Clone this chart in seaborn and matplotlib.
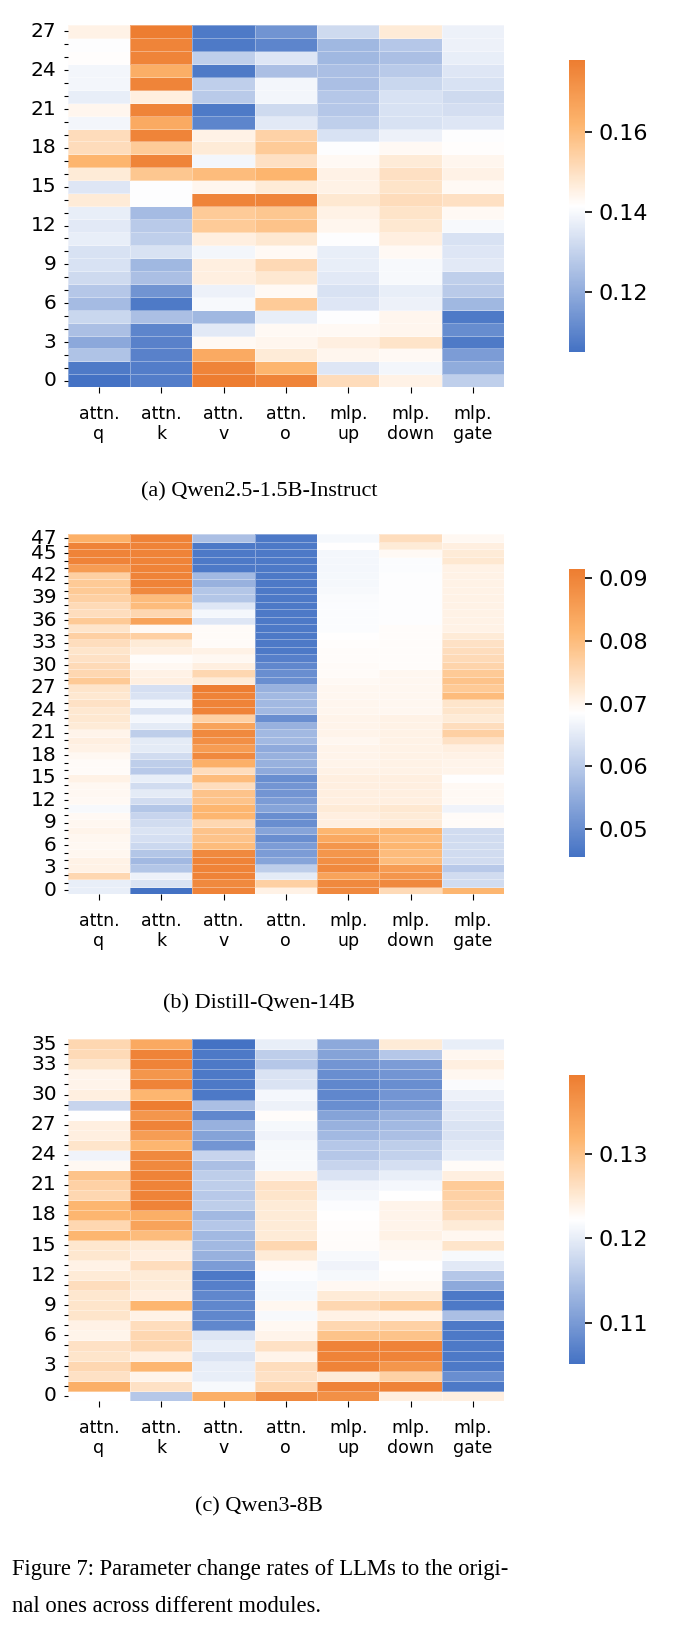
import numpy as np
import pandas as pd
import matplotlib
matplotlib.use("Agg")
import matplotlib.pyplot as plt
import seaborn as sns
from matplotlib.colors import LinearSegmentedColormap

# ---------------- data ----------------
modules = ["attn.\nq", "attn.\nk", "attn.\nv", "attn.\no", "mlp.\nup", "mlp.\ndown", "mlp.\ngate"]

# (a) Qwen2.5-1.5B-Instruct, layers 0..27
qa_q = [0.105, 0.107, 0.126, 0.119, 0.125, 0.131, 0.124, 0.127, 0.132, 0.134, 0.134, 0.137, 0.136, 0.137,
        0.147, 0.135, 0.147, 0.162, 0.151, 0.151, 0.139, 0.144, 0.137, 0.139, 0.139, 0.142, 0.141, 0.145]
qa_k = [0.108, 0.108, 0.109, 0.109, 0.110, 0.125, 0.107, 0.114, 0.125, 0.123, 0.134, 0.129, 0.128, 0.124,
        0.141, 0.141, 0.157, 0.176, 0.156, 0.176, 0.165, 0.176, 0.146, 0.176, 0.164, 0.176, 0.176, 0.178]
qa_v = [0.178, 0.176, 0.165, 0.143, 0.136, 0.123, 0.140, 0.138, 0.146, 0.146, 0.139, 0.146, 0.156, 0.156,
        0.176, 0.144, 0.160, 0.139, 0.147, 0.145, 0.110, 0.107, 0.128, 0.129, 0.107, 0.129, 0.107, 0.107]
qa_o = [0.176, 0.162, 0.147, 0.144, 0.143, 0.137, 0.156, 0.143, 0.148, 0.152, 0.143, 0.148, 0.158, 0.157,
        0.176, 0.147, 0.162, 0.150, 0.156, 0.154, 0.136, 0.132, 0.139, 0.139, 0.125, 0.135, 0.110, 0.114]
qa_up = [0.151, 0.135, 0.144, 0.146, 0.143, 0.141, 0.135, 0.134, 0.136, 0.137, 0.137, 0.141, 0.144, 0.145,
         0.148, 0.145, 0.145, 0.143, 0.141, 0.134, 0.129, 0.127, 0.127, 0.125, 0.125, 0.123, 0.123, 0.132]
qa_down = [0.145, 0.139, 0.143, 0.149, 0.144, 0.144, 0.138, 0.137, 0.140, 0.140, 0.143, 0.146, 0.148, 0.149,
           0.151, 0.149, 0.150, 0.147, 0.143, 0.138, 0.134, 0.134, 0.134, 0.131, 0.128, 0.125, 0.127, 0.147]
qa_gate = [0.129, 0.120, 0.116, 0.107, 0.112, 0.107, 0.123, 0.128, 0.129, 0.136, 0.135, 0.134, 0.140, 0.143,
           0.150, 0.143, 0.145, 0.144, 0.142, 0.141, 0.135, 0.133, 0.132, 0.134, 0.135, 0.137, 0.138, 0.138]

# (b) Distill-Qwen-14B, layers 0..47
qb_q = [0.0657, 0.0657, 0.0754, 0.0708, 0.0708, 0.0699, 0.0697, 0.0699, 0.0703, 0.0699, 0.0694, 0.0676,
        0.0694, 0.0697, 0.0697, 0.0708, 0.0692, 0.0692, 0.0697, 0.0708, 0.0713, 0.0703, 0.0720, 0.0726,
        0.0726, 0.0736, 0.0726, 0.0731, 0.0777, 0.0754, 0.0749, 0.0736, 0.0731, 0.0743, 0.0766, 0.0731,
        0.0777, 0.0743, 0.0749, 0.0766, 0.0777, 0.0777, 0.0766, 0.0858, 0.0904, 0.0904, 0.0904, 0.0823]
qb_k = [0.0455, 0.0639, 0.0662, 0.0593, 0.0570, 0.0593, 0.0621, 0.0634, 0.0639, 0.0628, 0.0616, 0.0593,
        0.0628, 0.0651, 0.0628, 0.0657, 0.0598, 0.0605, 0.0628, 0.0651, 0.0651, 0.0605, 0.0651, 0.0671,
        0.0639, 0.0671, 0.0639, 0.0634, 0.0713, 0.0708, 0.0697, 0.0690, 0.0713, 0.0720, 0.0766, 0.0694,
        0.0846, 0.0754, 0.0800, 0.0800, 0.0892, 0.0904, 0.0904, 0.0904, 0.0904, 0.0904, 0.0904, 0.0904]
qb_v = [0.0904, 0.0892, 0.0904, 0.0904, 0.0904, 0.0892, 0.0800, 0.0789, 0.0789, 0.0754, 0.0812, 0.0812,
        0.0789, 0.0789, 0.0743, 0.0800, 0.0743, 0.0823, 0.0892, 0.0858, 0.0881, 0.0892, 0.0846, 0.0766,
        0.0904, 0.0904, 0.0904, 0.0915, 0.0720, 0.0754, 0.0713, 0.0697, 0.0708, 0.0692, 0.0692, 0.0692,
        0.0644, 0.0671, 0.0644, 0.0593, 0.0593, 0.0559, 0.0570, 0.0467, 0.0467, 0.0467, 0.0467, 0.0582]
qb_o = [0.0708, 0.0766, 0.0651, 0.0605, 0.0536, 0.0524, 0.0524, 0.0501, 0.0536, 0.0501, 0.0501, 0.0536,
        0.0524, 0.0513, 0.0513, 0.0501, 0.0547, 0.0559, 0.0559, 0.0547, 0.0570, 0.0570, 0.0559, 0.0501,
        0.0570, 0.0570, 0.0570, 0.0559, 0.0501, 0.0501, 0.0490, 0.0478, 0.0467, 0.0467, 0.0467, 0.0467,
        0.0467, 0.0467, 0.0467, 0.0467, 0.0467, 0.0467, 0.0467, 0.0467, 0.0467, 0.0467, 0.0467, 0.0467]
qb_up = [0.0892, 0.0892, 0.0846, 0.0892, 0.0881, 0.0869, 0.0869, 0.0835, 0.0812, 0.0713, 0.0713, 0.0720,
         0.0713, 0.0713, 0.0713, 0.0713, 0.0708, 0.0703, 0.0703, 0.0703, 0.0699, 0.0703, 0.0703, 0.0703,
         0.0701, 0.0701, 0.0699, 0.0699, 0.0694, 0.0692, 0.0692, 0.0690, 0.0690, 0.0687, 0.0685, 0.0680,
         0.0680, 0.0680, 0.0680, 0.0678, 0.0676, 0.0674, 0.0674, 0.0671, 0.0671, 0.0671, 0.0685, 0.0674]
qb_down = [0.0749, 0.0892, 0.0869, 0.0858, 0.0800, 0.0800, 0.0812, 0.0800, 0.0812, 0.0720, 0.0720, 0.0726,
           0.0713, 0.0713, 0.0713, 0.0713, 0.0708, 0.0708, 0.0708, 0.0708, 0.0708, 0.0708, 0.0708, 0.0708,
           0.0699, 0.0699, 0.0699, 0.0699, 0.0699, 0.0699, 0.0690, 0.0690, 0.0690, 0.0690, 0.0690, 0.0690,
           0.0683, 0.0683, 0.0683, 0.0683, 0.0683, 0.0683, 0.0683, 0.0680, 0.0680, 0.0694, 0.0720, 0.0743]
qb_gate = [0.0812, 0.0628, 0.0628, 0.0598, 0.0628, 0.0628, 0.0628, 0.0628, 0.0628, 0.0692, 0.0692, 0.0667,
           0.0694, 0.0694, 0.0694, 0.0685, 0.0703, 0.0703, 0.0708, 0.0713, 0.0736, 0.0766, 0.0743, 0.0720,
           0.0731, 0.0731, 0.0800, 0.0777, 0.0789, 0.0777, 0.0759, 0.0749, 0.0743, 0.0736, 0.0720, 0.0708,
           0.0708, 0.0708, 0.0708, 0.0708, 0.0708, 0.0708, 0.0708, 0.0708, 0.0726, 0.0720, 0.0713, 0.0697]

# (c) Qwen3-8B, layers 0..35
qc_q = [0.1222, 0.1325, 0.1260, 0.1273, 0.1256, 0.1260, 0.1236, 0.1239, 0.1256, 0.1256, 0.1253, 0.1265,
        0.1248, 0.1239, 0.1253, 0.1253, 0.1316, 0.1273, 0.1316, 0.1316, 0.1273, 0.1282, 0.1299, 0.1231,
        0.1208, 0.1256, 0.1243, 0.1243, 0.1222, 0.1171, 0.1243, 0.1236, 0.1236, 0.1256, 0.1270, 0.1273]
qc_k = [0.1154, 0.1260, 0.1236, 0.1316, 0.1243, 0.1273, 0.1273, 0.1265, 0.1239, 0.1316, 0.1243, 0.1248,
        0.1248, 0.1265, 0.1243, 0.1248, 0.1308, 0.1342, 0.1325, 0.1384, 0.1384, 0.1384, 0.1384, 0.1376,
        0.1376, 0.1316, 0.1350, 0.1384, 0.1359, 0.1393, 0.1316, 0.1384, 0.1359, 0.1384, 0.1384, 0.1333]
qc_v = [0.1325, 0.1215, 0.1201, 0.1201, 0.1188, 0.1201, 0.1191, 0.1077, 0.1077, 0.1077, 0.1077, 0.1068,
        0.1060, 0.1102, 0.1128, 0.1137, 0.1137, 0.1154, 0.1137, 0.1162, 0.1157, 0.1162, 0.1162, 0.1145,
        0.1171, 0.1094, 0.1111, 0.1128, 0.1077, 0.1145, 0.1060, 0.1060, 0.1060, 0.1060, 0.1060, 0.1051]
qc_o = [0.1376, 0.1273, 0.1260, 0.1265, 0.1236, 0.1260, 0.1236, 0.1231, 0.1215, 0.1232, 0.1213, 0.1213,
        0.1219, 0.1229, 0.1248, 0.1273, 0.1248, 0.1248, 0.1248, 0.1248, 0.1256, 0.1260, 0.1239, 0.1215,
        0.1215, 0.1213, 0.1208, 0.1213, 0.1225, 0.1205, 0.1212, 0.1188, 0.1188, 0.1154, 0.1162, 0.1201]
qc_up = [0.1367, 0.1384, 0.1248, 0.1384, 0.1384, 0.1384, 0.1299, 0.1273, 0.1239, 0.1273, 0.1248, 0.1231,
         0.1213, 0.1208, 0.1215, 0.1225, 0.1225, 0.1224, 0.1222, 0.1219, 0.1212, 0.1208, 0.1188, 0.1171,
         0.1154, 0.1154, 0.1137, 0.1128, 0.1111, 0.1085, 0.1077, 0.1077, 0.1085, 0.1094, 0.1111, 0.1119]
qc_down = [0.1243, 0.1384, 0.1282, 0.1359, 0.1384, 0.1384, 0.1299, 0.1282, 0.1236, 0.1290, 0.1248, 0.1231,
           0.1225, 0.1222, 0.1229, 0.1232, 0.1239, 0.1236, 0.1236, 0.1236, 0.1222, 0.1212, 0.1201, 0.1184,
           0.1167, 0.1162, 0.1145, 0.1137, 0.1128, 0.1102, 0.1094, 0.1085, 0.1094, 0.1102, 0.1154, 0.1248]
qc_gate = [0.1243, 0.1060, 0.1085, 0.1060, 0.1060, 0.1060, 0.1060, 0.1060, 0.1145, 0.1060, 0.1060, 0.1119,
           0.1154, 0.1196, 0.1215, 0.1256, 0.1232, 0.1248, 0.1265, 0.1273, 0.1282, 0.1290, 0.1243, 0.1227,
           0.1201, 0.1196, 0.1188, 0.1188, 0.1196, 0.1196, 0.1205, 0.1217, 0.1232, 0.1243, 0.1232, 0.1201]

captions = ["(a) Qwen2.5-1.5B-Instruct", "(b) Distill-Qwen-14B", "(c) Qwen3-8B"]
cbar_ticks = [[0.12, 0.14, 0.16], [0.05, 0.06, 0.07, 0.08, 0.09], [0.11, 0.12, 0.13]]
fig_caption = ("Figure 7: Parameter change rates of LLMs to the origi-\n"
               "nal ones across different modules.")

panels = [
    [qa_q, qa_k, qa_v, qa_o, qa_up, qa_down, qa_gate],
    [qb_q, qb_k, qb_v, qb_o, qb_up, qb_down, qb_gate],
    [qc_q, qc_k, qc_v, qc_o, qc_up, qc_down, qc_gate],
]

# ---------------- style / layout ----------------
cmap = LinearSegmentedColormap.from_list(
    "office_div",
    [(0.0, "#4472C4"), (0.5, "#FFFFFF"), (0.78, "#FDB56E"), (1.0, "#ED7D31")])

W, H = 691, 1637
fig = plt.figure(figsize=(W / 100, H / 100), dpi=100)

def fx(px):
    return px / W

def fy(px):
    return 1 - px / H

# (top, bottom) of heatmaps and colorbars in pixels
hm_rows = [(25, 387.3), (534.3, 894.0), (1039.3, 1400.7)]
cb_rows = [(60, 352), (569, 857), (1075, 1364.3)]
cap_y = [491.7, 1004.2, 1506.7]
hm_left, hm_right = 67.7, 504.0
cb_left, cb_right = 569.0, 585.0

for i, cols in enumerate(panels):
    df = pd.DataFrame({m: c for m, c in zip(modules, cols)})
    n = len(df)
    t, b = hm_rows[i]
    ax = fig.add_axes([fx(hm_left), fy(b), fx(hm_right - hm_left), (b - t) / H])
    ct, cbm = cb_rows[i]
    cax = fig.add_axes([fx(cb_left), fy(cbm), fx(cb_right - cb_left), (cbm - ct) / H])
    sns.heatmap(df, ax=ax, cmap=cmap, cbar_ax=cax, linewidths=0.4,
                linecolor=(1, 1, 1, 0.35), cbar_kws={"ticks": cbar_ticks[i]})
    ax.invert_yaxis()
    ax.set_yticks(np.arange(n) + 0.5)
    ax.set_yticklabels([str(k) if (k % 3 == 0 or k == n - 1) else "" for k in range(n)],
                       rotation=0, fontsize=14.5)
    ax.set_xticks(np.arange(len(modules)) + 0.5)
    ax.set_xticklabels(modules, rotation=0, fontsize=12.5, linespacing=1.15)
    ax.tick_params(axis="y", length=3, width=0.8, pad=5)
    ax.tick_params(axis="x", length=4, width=0.8, pad=9)
    cax.tick_params(labelsize=16, length=5, width=1.2, pad=5)
    cax.yaxis.set_major_formatter(matplotlib.ticker.FormatStrFormatter("%.2f"))
    fig.text(fx(259), fy(cap_y[i]), captions[i], ha="center", va="center",
             fontsize=16, family="Liberation Serif")

fig.text(fx(12), fy(1588), fig_caption, ha="left", va="center", fontsize=16.3,
         family="Liberation Serif", linespacing=2.0)

fig.savefig("out.png", dpi=100)
